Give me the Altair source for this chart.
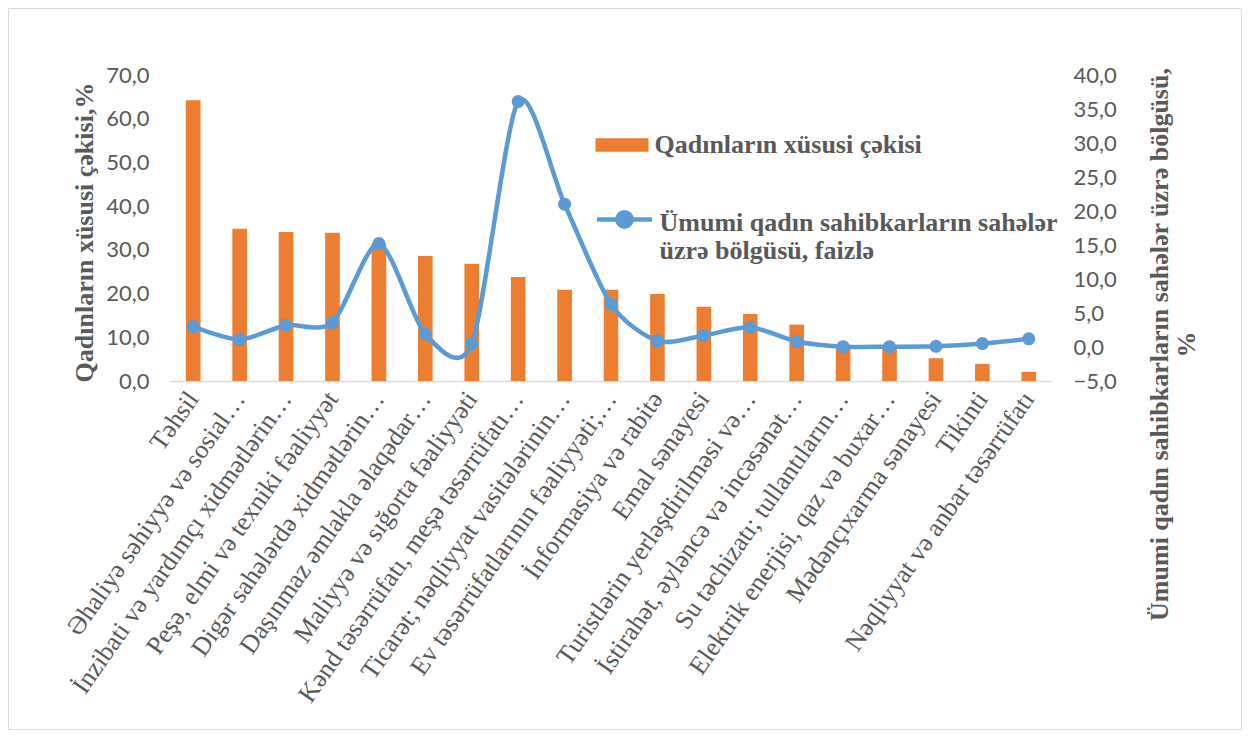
import altair as alt
import pandas as pd

categories = [
    "Təhsil",
    "Əhaliyə səhiyyə və sosial…",
    "İnzibati və yardımçı xidmətlərin…",
    "Peşə, elmi və texniki fəaliyyət",
    "Digər sahələrdə xidmətlərin…",
    "Daşınmaz əmlakla əlaqədar…",
    "Maliyyə və sığorta fəaliyyəti",
    "Kənd təsərrüfatı, meşə təsərrüfatı…",
    "Ticarət; nəqliyyat vasitələrinin…",
    "Ev təsərrüfatlarının fəaliyyəti;…",
    "İnformasiya və rabitə",
    "Emal sənayesi",
    "Turistlərin yerləşdirilməsi və…",
    "İstirahət, əyləncə və incəsənət…",
    "Su təchizatı; tullantıların…",
    "Elektrik enerjisi, qaz və buxar…",
    "Mədənçıxarma sənayesi",
    "Tikinti",
    "Nəqliyyat və anbar təsərrüfatı",
]
women_share = [64.2, 34.8, 34.1, 33.9, 31.5, 28.6, 26.8, 23.8, 20.9, 20.9,
               19.9, 17.0, 15.3, 12.9, 8.3, 8.1, 5.2, 3.9, 2.1]
distribution = [3.0, 1.1, 3.2, 3.6, 15.2, 1.9, 0.5, 36.1, 21.0, 6.3,
                0.9, 1.7, 2.9, 0.8, 0.05, 0.05, 0.1, 0.5, 1.2]
left_ticks = [0, 10, 20, 30, 40, 50, 60, 70]
right_ticks = [-5, 0, 5, 10, 15, 20, 25, 30, 35, 40]
series_bar = "Qadınların xüsusi çəkisi"
series_line = "Ümumi qadın sahibkarların sahələr|üzrə bölgüsü,  faizlə"
left_title = "Qadınların xüsusi çəkisi,%"
right_title = ["Ümumi qadın sahibkarların sahələr üzrə bölgüsü,", "%"]

ORANGE = "#ED7D31"
BLUE = "#5B9BD5"
GRAY = "#595959"
SERIF = "Liberation Serif"
SANS = "Lato"

W, H = 882, 306
PAD_L, PAD_T, PAD_R, PAD_B = 162, 67, 190, 349

df = pd.DataFrame({
    "cat": categories,
    "share": women_share,
    "dist": distribution,
    "s1": series_bar,
    "s2": series_line,
})

num_expr = "replace(format(datum.value, '.1f'), '.', ',')"

x_enc = alt.X(
    "cat:N", sort=categories, title=None,
    scale=alt.Scale(paddingInner=0.685, paddingOuter=0.3425),
    axis=alt.Axis(labelAngle=305, labelFont=SERIF, labelFontSize=26,
                  labelColor=GRAY, labelPadding=13, labelLimit=800,
                  ticks=False, domainColor="#D9D9D9", domainWidth=1.5,
                  labelAlign="right", labelBaseline="middle"),
)

bars = alt.Chart(df).mark_bar().encode(
    x=x_enc,
    y=alt.Y("share:Q", scale=alt.Scale(domain=[0, 70], nice=False),
            axis=alt.Axis(values=left_ticks, labelExpr=num_expr, grid=False,
                          domain=False, ticks=False, labelFont=SANS,
                          labelFontSize=22, labelColor=GRAY, labelPadding=21,
                          title=left_title, titleFont=SERIF, titleFontSize=26,
                          titleFontWeight="bold", titleColor=GRAY,
                          titleAngle=270, titleX=-78, titleY=H / 2 + 4,
                          titleAlign="center", titleBaseline="alphabetic")),
    color=alt.Color("s1:N", scale=alt.Scale(domain=[series_bar], range=[ORANGE]),
                    legend=alt.Legend(orient="none", legendX=425.5, legendY=43.5,
                                      title=None, padding=0,
                                      symbolType="M-1,-0.255H1V0.255H-1Z",
                                      symbolSize=2809, symbolStrokeWidth=0,
                                      labelFont=SERIF, labelFontSize=26,
                                      labelFontWeight="bold", labelColor=GRAY,
                                      labelOffset=6, labelLimit=800)),
)

line = alt.Chart(df).mark_line(
    interpolate="cardinal", tension=0.2, strokeWidth=4.5,
    point=alt.OverlayMarkDef(filled=True, size=170, opacity=1),
).encode(
    x=alt.X("cat:N", sort=categories),
    y=alt.Y("dist:Q", scale=alt.Scale(domain=[-5, 40], nice=False),
            axis=alt.Axis(orient="right", values=right_ticks, labelExpr=num_expr,
                          grid=False, domain=False, ticks=False, labelFont=SANS,
                          labelFontSize=22, labelColor=GRAY, labelPadding=21,
                          title=right_title, titleFont=SERIF, titleFontSize=26,
                          titleFontWeight="bold", titleColor=GRAY,
                          titleAngle=270, titleX=115, titleY=269,
                          titleLineHeight=27,
                          titleAlign="center", titleBaseline="alphabetic")),
    color=alt.Color("s2:N", scale=alt.Scale(domain=[series_line], range=[BLUE]),
                    legend=alt.Legend(orient="none", legendX=424.5, legendY=117.5,
                                      title=None, padding=0,
                                      symbolType="M-1,-0.11H1M0.26,-0.11A0.26,0.26,0,1,1,-0.26,-0.11A0.26,0.26,0,1,1,0.26,-0.11",
                                      symbolSize=3025, symbolStrokeWidth=4.5,
                                      symbolFillColor=BLUE,
                                      labelExpr="split(datum.label, '|')",
                                      labelFont=SERIF, labelFontSize=26,
                                      labelFontWeight="bold", labelColor=GRAY,
                                      labelOffset=5, labelLimit=800)),
)

frame = alt.Chart(alt.Data(values=[{}])).mark_rect(
    fill=None, stroke="#D9D9D9", strokeWidth=1
).encode(
    x=alt.value(-PAD_L + 0.5), x2=alt.value(W + PAD_R - 0.5),
    y=alt.value(-PAD_T + 0.5), y2=alt.value(H + PAD_B - 0.5),
)

chart = alt.layer(frame, bars, line).resolve_scale(
    y="independent", color="independent"
).properties(
    width=W, height=H,
    autosize=alt.AutoSizeParams(type="none"),
    padding={"left": PAD_L, "top": PAD_T, "right": PAD_R, "bottom": PAD_B},
    background="white",
).configure_view(stroke=None)

chart.save("out.html", embed_options={"renderer": "svg", "actions": False})
